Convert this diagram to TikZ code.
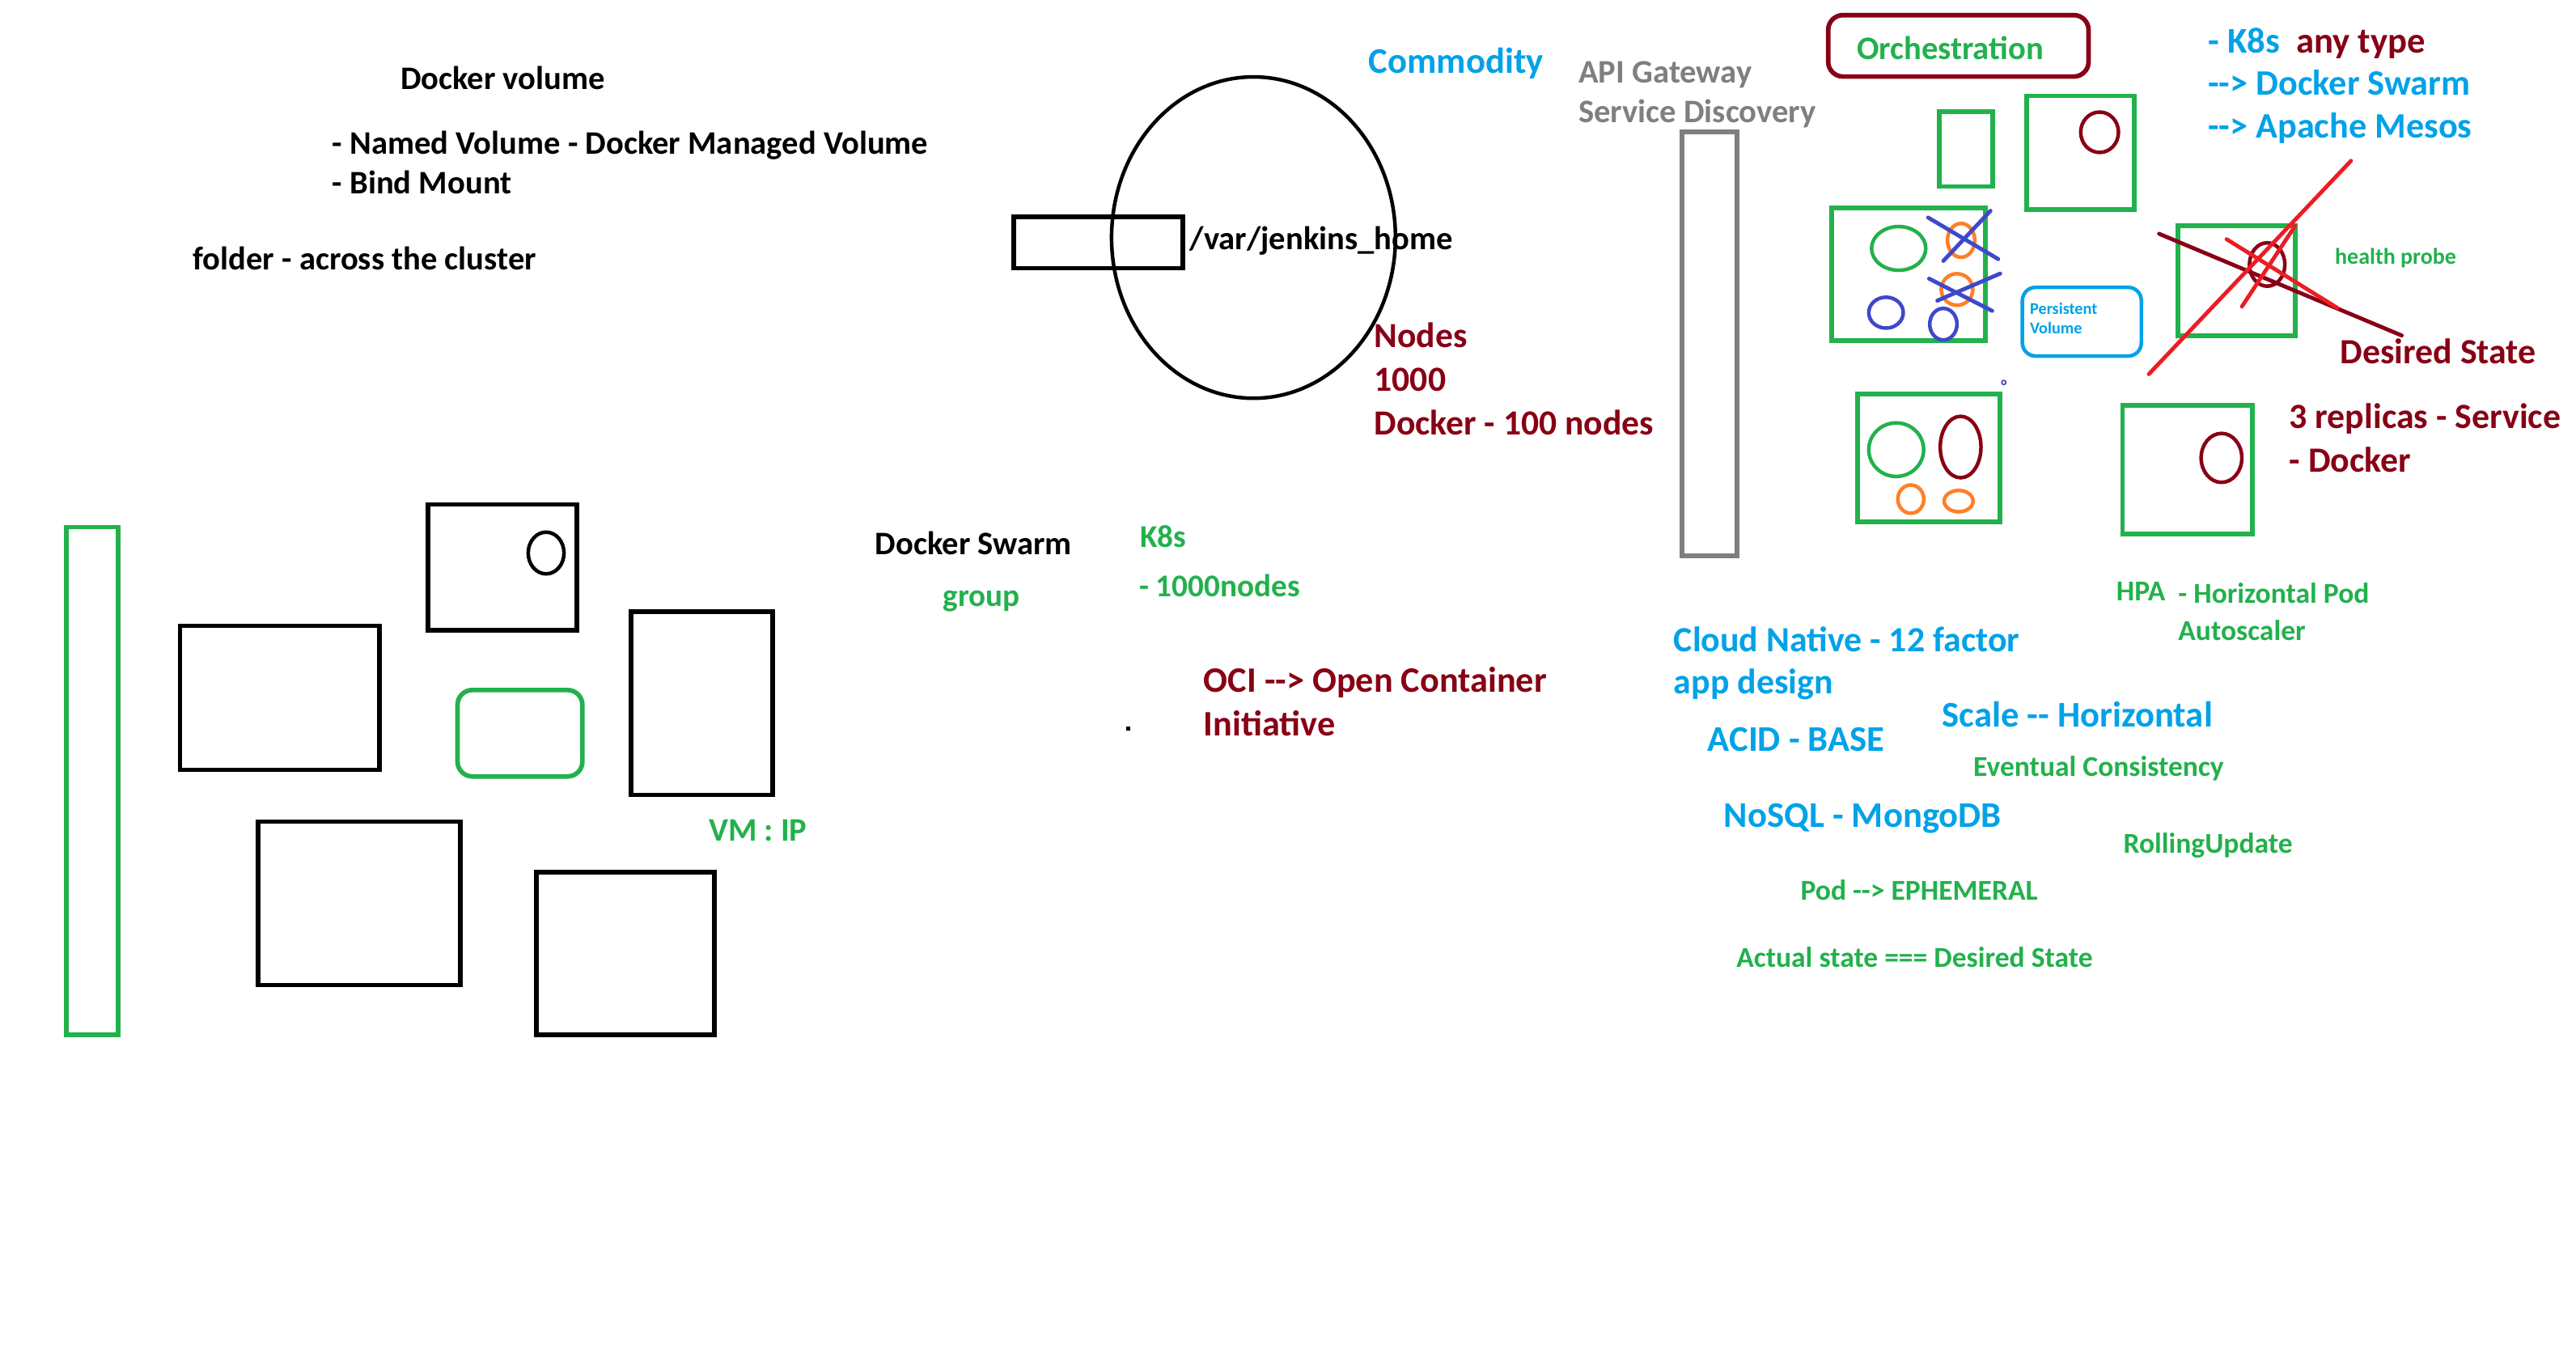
\documentclass[tikz,border=0pt]{standalone}
\usepackage{fontspec}
\setmainfont{Carlito}
\definecolor{pgreen}{HTML}{22B14C}
\definecolor{pdred}{HTML}{880015}
\definecolor{pblue}{HTML}{00A2E8}
\definecolor{pindigo}{HTML}{3F48CC}
\definecolor{porange}{HTML}{FF7F27}
\definecolor{pred}{HTML}{ED1C24}
\definecolor{pgray}{HTML}{7F7F7F}
\tikzset{
  lbl/.style={anchor=base west, inner sep=0pt, yshift=-1.5pt, font=\bfseries\fontsize{#1}{#1}\selectfont},
  box/.style={line width=2.8pt},
  thin/.style={line width=2.2pt},
  pen/.style={line width=2.4pt, line cap=round},
}
\begin{document}
\begin{tikzpicture}[x=1pt,y=-1pt]
\fill[white] (0,0) rectangle (1568,825);
\useasboundingbox (0,0) rectangle (1568,825);

% ---------- left cluster ----------
\draw[box,pgreen] (40.4,320.8) rectangle (71.9,629.9);
\draw[box] (260.5,307) rectangle (351,383.5);
\draw[thin] (332.4,336.6) ellipse [x radius=10.9pt, y radius=12.7pt];
\draw[box] (109.5,380.9) rectangle (230.8,468.6);
\draw[box,pgreen,rounded corners=9pt] (278.5,420) rectangle (354.5,472.6);
\draw[box] (384.2,372.3) rectangle (470.2,483.8);
\draw[box] (157.2,500.1) rectangle (280.2,599.5);
\draw[box] (326.5,530.9) rectangle (435,629.9);

% ---------- jenkins volume ----------
\draw[thin] (763,144.6) ellipse [x radius=86.4pt, y radius=97.8pt];
\draw[box] (616.9,132) rectangle (719.9,163.2);
\fill (685.4,442.2) rectangle (688,444.8);

% ---------- gateway ----------
\draw[box,pgray] (1023.9,80.3) rectangle (1057.4,338.4);

% ---------- orchestration cluster ----------
\draw[box,pdred,rounded corners=9pt] (1112.8,9.2) rectangle (1271.3,46.6);
\draw[box,pgreen] (1180.4,67.8) rectangle (1212.9,113.5);
\draw[box,pgreen] (1233.6,58.3) rectangle (1299.1,127.6);
\draw[thin,pdred] (1278,80.5) ellipse [x radius=11.5pt, y radius=12.3pt];

\draw[box,pgreen] (1115,126.7) rectangle (1208.5,207.2);
\draw[thin,pgreen] (1155.7,151.2) ellipse [x radius=16.5pt, y radius=13.3pt];
\draw[thin,porange] (1193.7,146.3) ellipse [x radius=8.3pt, y radius=10.3pt];
\draw[thin,porange] (1191.2,176.2) ellipse [x radius=9.6pt, y radius=9.6pt];
\draw[thin,pindigo] (1148,190.3) ellipse [x radius=10.5pt, y radius=9.4pt];
\draw[thin,pindigo] (1182.9,197.3) ellipse [x radius=8.3pt, y radius=9.6pt];
\draw[pen,pindigo] (1173.6,132.4) -- (1216.3,157.7);
\draw[pen,pindigo] (1211.6,128.3) -- (1182.9,158.8);
\draw[pen,pindigo] (1174.2,169.6) -- (1212.6,189.2);
\draw[pen,pindigo] (1217.5,166.5) -- (1179.2,183);

\draw[thin,pblue,rounded corners=8pt] (1231,174.9) rectangle (1303.4,216.7);
\draw[pindigo,line width=0.8pt] (1219.7,232.8) circle [radius=1.3pt];

\draw[box,pgreen] (1325.7,137.3) rectangle (1397,204.2);
\draw[thin,pdred] (1380,161) ellipse [x radius=10.8pt, y radius=13.2pt];
\draw[pen,pdred] (1314.2,142.3) -- (1461.9,204.2);
\draw[pen,pred] (1431,97.9) -- (1308,227.7);
\draw[pen,pred] (1355.3,145.6) -- (1422.7,187.4);
\draw[pen,pred] (1397,137.5) -- (1364.6,186.6);

\draw[box,pgreen] (1130.7,239.8) rectangle (1217.5,317.5);
\draw[thin,pgreen] (1154.2,273.7) ellipse [x radius=16.7pt, y radius=16.3pt];
\draw[thin,pdred] (1193.4,272.1) ellipse [x radius=12.4pt, y radius=18.7pt];
\draw[thin,porange] (1163.1,303.8) ellipse [x radius=7.9pt, y radius=8.6pt];
\draw[thin,porange] (1192.2,305) ellipse [x radius=8.8pt, y radius=6.5pt];

\draw[box,pgreen] (1292,246.8) rectangle (1371,325);
\draw[thin,pdred] (1352.2,278.7) ellipse [x radius=12.4pt, y radius=14.9pt];

% ---------- texts ----------
\node[lbl=20] (dv) at (243.6,52.7) {Docker volume};
\node[lbl=20] (nv) at (202.1,92.5) {- Named Volume - Docker Managed Volume};
\node[lbl=20] (bm) at (202.1,116.5) {- Bind Mount};
\node[lbl=20] (fold) at (117.3,162.5) {folder - across the cluster};

\node[lbl=22,pblue] (comm) at (832.9,43.2) {Commodity};
\node[lbl=20] (jh) at (724,150.2) {/var/jenkins\_home};
\node[lbl=21.5,pdred] (nodes) at (836.3,210.2) {Nodes};
\node[lbl=21.5,pdred] (nk) at (836.3,236.6) {1000};
\node[lbl=21.5,pdred] (dn) at (836.3,263) {Docker - 100 nodes};

\node[lbl=20,pgray] (api) at (960.7,49.1) {API Gateway};
\node[lbl=20,pgray] (sd) at (960.7,73.3) {Service Discovery};

\node[lbl=20,pgreen] (orch) at (1130,34.8) {Orchestration};
\node[lbl=22,pblue] (k8s) at (1343.9,30.6) {- K8s};
\node[lbl=22,pdred] (any) at (1397.6,30.6) {any type};
\node[lbl=21.8,pblue] (dsw2) at (1343.9,56.3) {-{}-> Docker Swarm};
\node[lbl=21.8,pblue] (am) at (1343.9,82.7) {-{}-> Apache Mesos};

\node[lbl=10,pblue] (pv1) at (1235.4,189.7) {Persistent};
\node[lbl=10,pblue] (pv2) at (1235.4,201.8) {Volume};
\node[lbl=13.8,pgreen] (hp) at (1421.1,159.3) {health probe};
\node[lbl=21.6,pdred] (dst) at (1424.2,219.7) {Desired State};
\node[lbl=21.6,pdred] (rep) at (1393.3,259.4) {3 replicas - Service};
\node[lbl=21.6,pdred] (dock) at (1393.3,285.8) {- Docker};

\node[lbl=20] (dsw) at (532.6,336) {Docker Swarm};
\node[lbl=19.3,pgreen] (grp) at (573.8,367.5) {group};
\node[lbl=19.3,pgreen] (k8b) at (693.8,331.7) {K8s};
\node[lbl=19.3,pgreen] (kn) at (693.2,361.8) {- 1000nodes};
\node[lbl=21.8,pdred] (oci) at (732.5,419.7) {OCI -{}-> Open Container};
\node[lbl=21.8,pdred] (init) at (732.5,446.6) {Initiative};
\node[lbl=20,pgreen] (vm) at (431.2,510.2) {VM : IP};

\node[lbl=17.5,pgreen] (hpa) at (1288,364) {HPA};
\node[lbl=17.5,pgreen] (hpod) at (1325.7,365.7) {- Horizontal Pod};
\node[lbl=17.5,pgreen] (auto) at (1325.7,388.1) {Autoscaler};
\node[lbl=21.6,pblue] (cn) at (1018.6,395) {Cloud Native - 12 factor};
\node[lbl=21.6,pblue] (app) at (1018.6,421) {app design};
\node[lbl=22,pblue] (sc) at (1182,440.9) {Scale -{}- Horizontal};
\node[lbl=22,pblue] (acid) at (1039.3,455.7) {ACID - BASE};
\node[lbl=17.5,pgreen] (ec) at (1201,471.2) {Eventual Consistency};
\node[lbl=22,pblue] (nosql) at (1049.2,502) {NoSQL - MongoDB};
\node[lbl=17.5,pgreen] (ru) at (1292.3,518) {RollingUpdate};
\node[lbl=17.5,pgreen] (pod) at (1095.8,546.4) {Pod -{}-> EPHEMERAL};
\node[lbl=17.5,pgreen] (act) at (1056.8,587.1) {Actual state === Desired State};
\end{tikzpicture}
\end{document}
